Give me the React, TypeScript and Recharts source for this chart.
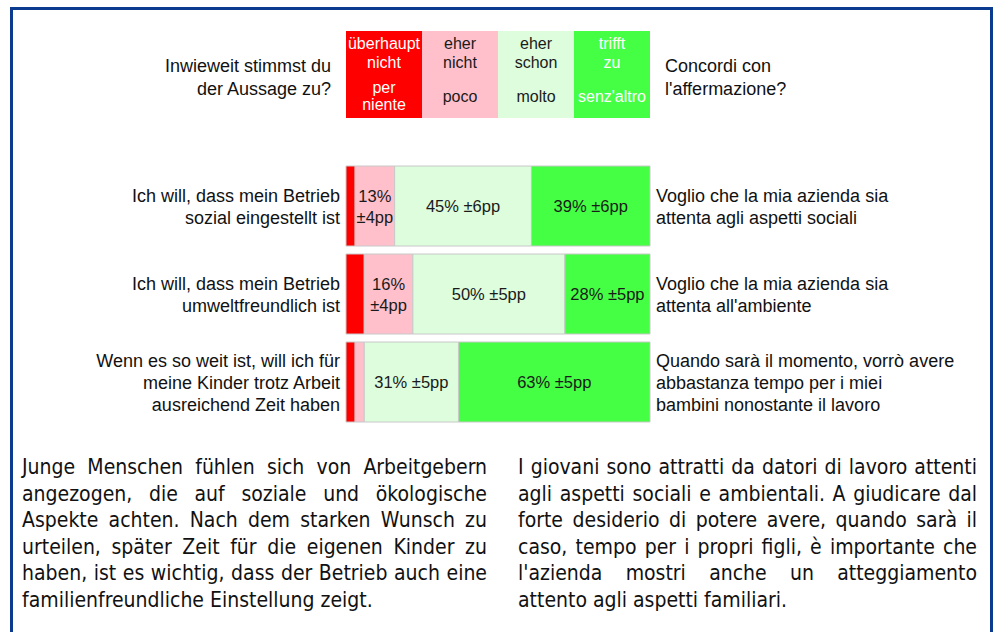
import { BarChart, Bar, XAxis, YAxis, LabelList } from 'recharts';

// Zeilen (deutsch / italienisch)
const rowsDe = [
  'Ich will, dass mein Betrieb\nsozial eingestellt ist',
  'Ich will, dass mein Betrieb\numweltfreundlich ist',
  'Wenn es so weit ist, will ich für\nmeine Kinder trotz Arbeit\nausreichend Zeit haben',
];
const rowsIt = [
  'Voglio che la mia azienda sia\nattenta agli aspetti sociali',
  "Voglio che la mia azienda sia\nattenta all'ambiente",
  'Quando sarà il momento, vorrò avere\nabbastanza tempo per i miei\nbambini nonostante il lavoro',
];

// Anteile in %
const ueberhauptNicht = [3, 6, 3];
const eherNicht = [13, 16, 3];
const eherSchon = [45, 50, 31];
const trifftZu = [39, 28, 63];

// Fehlerspanne in pp (null = keine Beschriftung)
const errEherNicht = [4, 4, null];
const errEherSchon = [6, 5, 5];
const errTrifftZu = [6, 5, 5];

// Skala
const scaleDe = ['überhaupt\nnicht', 'eher\nnicht', 'eher\nschon', 'trifft\nzu'];
const scaleIt = ['per\nniente', 'poco', 'molto', "senz'altro"];
const scaleColors = ['#ff0000', '#ffc0cb', '#ddfddd', '#44ff44'];
const scaleTextColors = ['#ffffff', '#1a1a1a', '#1a1a1a', '#ffffff'];

const textDe = [
  'Junge Menschen fühlen sich von Arbeitgebern',
  'angezogen, die auf soziale und ökologische',
  'Aspekte achten. Nach dem starken Wunsch zu',
  'urteilen, später Zeit für die eigenen Kinder zu',
  'haben, ist es wichtig, dass der Betrieb auch eine',
  'familienfreundliche Einstellung zeigt.',
];
const textIt = [
  'I giovani sono attratti da datori di lavoro attenti',
  'agli aspetti sociali e ambientali. A giudicare dal',
  'forte desiderio di potere avere, quando sarà il',
  'caso, tempo per i propri figli, è importante che',
  "l'azienda mostri anche un atteggiamento",
  'attento agli aspetti familiari.',
];

const data = rowsDe.map((de, i) => ({
  de,
  it: rowsIt[i],
  r: ueberhauptNicht[i],
  p: eherNicht[i],
  lg: eherSchon[i],
  g: trifftZu[i],
}));

const FONT = '"Liberation Sans", Arial, sans-serif';
const LINE = 22;

const segLabel = (errs: (number | null)[]) => (props: any) => {
  const { x, y, width, height, value, index } = props;
  const err = errs[index];
  if (err == null) return null;
  const cx = x + width / 2;
  const cy = y + height / 2;
  const lines = width < 60 ? [`${value}%`, `±${err}pp`] : [`${value}% ±${err}pp`];
  const top = cy - ((lines.length - 1) * 21) / 2;
  return (
    <text x={cx} y={top} textAnchor="middle" fontFamily={FONT} fontSize={16.5} fill="#1a1a1a" dominantBaseline="central">
      {lines.map((l, k) => (
        <tspan key={k} x={cx} dy={k === 0 ? 0 : 21}>
          {l}
        </tspan>
      ))}
    </text>
  );
};

const RightLabel = (props: any) => {
  const { x, y, width, height, value } = props;
  const lines = String(value).split('\n');
  const tx = x + width + 6;
  const top = y + height / 2 + 1 - ((lines.length - 1) * LINE) / 2;
  return (
    <text x={tx} y={top} fontFamily={FONT} fontSize={18} fill="#111" dominantBaseline="central">
      {lines.map((l, k) => (
        <tspan key={k} x={tx} dy={k === 0 ? 0 : LINE}>
          {l}
        </tspan>
      ))}
    </text>
  );
};

const LeftTick = (props: any) => {
  const { x, y, payload } = props;
  const lines = String(payload.value).split('\n');
  const top = y + 1 - ((lines.length - 1) * LINE) / 2;
  return (
    <text x={x} y={top} textAnchor="end" fontFamily={FONT} fontSize={18} fill="#111" dominantBaseline="central">
      {lines.map((l, k) => (
        <tspan key={k} x={x} dy={k === 0 ? 0 : LINE}>
          {l}
        </tspan>
      ))}
    </text>
  );
};

const Para = ({ lines, left, width }: { lines: string[]; left: number; width: number }) => (
  <div
    style={{
      position: 'absolute',
      left,
      top: 454,
      width,
      fontFamily: '"DejaVu Sans Condensed", "DejaVu Sans", sans-serif',
      fontStretch: 'condensed',
      fontSize: 21,
      lineHeight: '26.6px',
      color: '#111',
    }}
  >
    {lines.map((l, i) => (
      <div key={i} style={{ textAlign: 'justify', textAlignLast: i === lines.length - 1 ? 'left' : 'justify' }}>
        {l}
      </div>
    ))}
  </div>
);

export default function App() {
  return (
    <div
      style={{
        position: 'absolute',
        left: 0,
        top: 0,
        width: 998,
        height: 632,
        overflow: 'hidden',
        background: '#fff',
        fontFamily: FONT,
      }}
    >
      <div
        style={{
          position: 'absolute',
          left: 10,
          top: 7,
          width: 983,
          height: 660,
          border: '3px solid #0b3b8f',
          boxSizing: 'border-box',
        }}
      />

      <BarChart
        width={998}
        height={440}
        data={data}
        layout="vertical"
        margin={{ top: 162, right: 348, bottom: 14, left: 4 }}
        barCategoryGap={8}
        style={{ position: 'absolute', left: 0, top: 0 }}
      >
        <XAxis type="number" domain={[0, 100]} hide />
        <YAxis
          type="category"
          dataKey="de"
          width={342}
          axisLine={false}
          tickLine={false}
          tickMargin={0}
          tick={<LeftTick />}
        />
        <Bar dataKey="r" stackId="a" fill={scaleColors[0]} stroke="#c8c8c8" strokeWidth={1} barSize={80} isAnimationActive={false} />
        <Bar dataKey="p" stackId="a" fill={scaleColors[1]} stroke="#c8c8c8" strokeWidth={1} barSize={80} isAnimationActive={false}>
          <LabelList dataKey="p" content={segLabel(errEherNicht)} />
        </Bar>
        <Bar dataKey="lg" stackId="a" fill={scaleColors[2]} stroke="#c8c8c8" strokeWidth={1} barSize={80} isAnimationActive={false}>
          <LabelList dataKey="lg" content={segLabel(errEherSchon)} />
        </Bar>
        <Bar dataKey="g" stackId="a" fill={scaleColors[3]} stroke="#c8c8c8" strokeWidth={1} barSize={80} isAnimationActive={false}>
          <LabelList dataKey="g" content={segLabel(errTrifftZu)} />
          <LabelList dataKey="it" content={<RightLabel />} />
        </Bar>
      </BarChart>

      {/* Skala oben */}
      <div style={{ position: 'absolute', left: 346, top: 31, display: 'flex' }}>
        {scaleColors.map((c, i) => (
          <div
            key={i}
            style={{
              width: 76,
              height: 87,
              background: c,
              color: scaleTextColors[i],
              fontSize: 16,
              lineHeight: '19px',
              textAlign: 'center',
              display: 'flex',
              flexDirection: 'column',
              whiteSpace: 'nowrap',
            }}
          >
            <div style={{ height: 43, display: 'flex', flexDirection: 'column', justifyContent: 'center', paddingTop: 1 }}>
              {scaleDe[i].split('\n').map((l, k) => (
                <div key={k}>{l}</div>
              ))}
            </div>
            <div style={{ height: 44, display: 'flex', flexDirection: 'column', justifyContent: 'center', lineHeight: '17px' }}>
              {scaleIt[i].split('\n').map((l, k) => (
                <div key={k}>{l}</div>
              ))}
            </div>
          </div>
        ))}
      </div>
      <div style={{ position: 'absolute', right: 998 - 331, top: 55, textAlign: 'right', fontSize: 18, lineHeight: '23px', color: '#111', whiteSpace: 'nowrap' }}>
        Inwieweit stimmst du
        <br />
        der Aussage zu?
      </div>
      <div style={{ position: 'absolute', left: 665, top: 55, fontSize: 18, lineHeight: '23px', color: '#111', whiteSpace: 'nowrap' }}>
        Concordi con
        <br />
        l'affermazione?
      </div>

      <Para lines={textDe} left={22} width={465} />
      <Para lines={textIt} left={518} width={459} />
    </div>
  );
}
